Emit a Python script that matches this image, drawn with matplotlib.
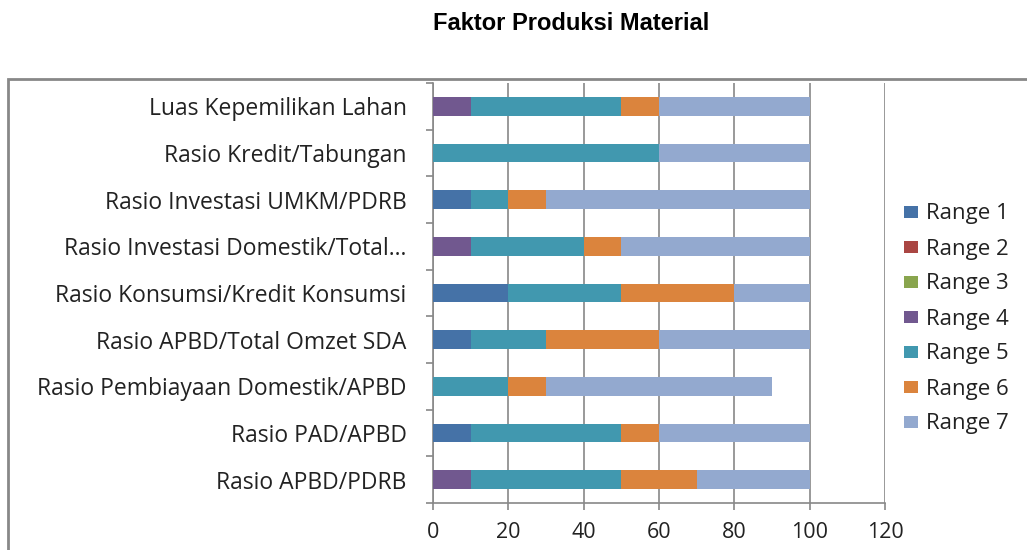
import numpy as np
import matplotlib.pyplot as plt
from matplotlib.patches import Rectangle

# categories, bottom to top
categories = ['Rasio APBD/PDRB', 'Rasio PAD/APBD', 'Rasio Pembiayaan Domestik/APBD',
              'Rasio APBD/Total Omzet SDA', 'Rasio Konsumsi/Kredit Konsumsi',
              'Rasio Investasi Domestik/Total...', 'Rasio Investasi UMKM/PDRB',
              'Rasio Kredit/Tabungan', 'Luas Kepemilikan Lahan']

range1 = [0, 10, 0, 10, 20, 0, 10, 0, 0]
range2 = [0, 0, 0, 0, 0, 0, 0, 0, 0]
range3 = [0, 0, 0, 0, 0, 0, 0, 0, 0]
range4 = [10, 0, 0, 0, 0, 10, 0, 0, 10]
range5 = [40, 40, 20, 20, 30, 30, 10, 60, 40]
range6 = [20, 10, 10, 30, 30, 10, 10, 0, 10]
range7 = [30, 40, 60, 40, 20, 50, 70, 40, 40]

series_names = ['Range 1', 'Range 2', 'Range 3', 'Range 4', 'Range 5', 'Range 6', 'Range 7']
colors = ['#4572A7', '#AA4643', '#89A54E', '#71588F', '#4198AF', '#DB843D', '#93A9CF']

font = 'Open Sans'

fig = plt.figure(figsize=(10.27, 5.5), dpi=100)
ax = fig.add_axes([433/1027, 1-503/550, (885-433)/1027, (503-83)/550])

y = np.arange(len(categories))
left = np.zeros(len(categories))
for name, vals, c in zip(series_names, [range1, range2, range3, range4, range5, range6, range7], colors):
    vals = np.array(vals, dtype=float)
    ax.barh(y, vals, left=left, height=0.4, color=c, label=name, zorder=3)
    left += vals

ax.set_xlim(0, 120)
ax.set_ylim(-0.5, len(categories) - 0.5)
ax.set_xticks(np.arange(0, 121, 20))
ax.set_yticks(y)
ax.set_yticklabels(categories, fontfamily=font, fontsize=16.5, color='#222222')
ax.set_yticks(np.arange(-0.5, len(categories), 1), minor=True)
ax.tick_params(axis='y', which='major', length=0, pad=19)
ax.tick_params(axis='y', which='minor', length=5, width=1.2, color='#888888', direction='out')
ax.tick_params(axis='x', length=5, width=1.2, color='#888888', pad=9, labelsize=15.5, labelcolor='#222222')
for lbl in ax.get_xticklabels():
    lbl.set_fontfamily(font)

ax.grid(axis='x', color='#888888', linewidth=1.2, zorder=0)
ax.set_axisbelow(True)
for s in ['top', 'right']:
    ax.spines[s].set_visible(False)
for s in ['left', 'bottom']:
    ax.spines[s].set_color('#888888')
    ax.spines[s].set_linewidth(1.2)

leg = fig.legend(loc='center left', bbox_to_anchor=(904/1027, 1-319/550), frameon=False,
                 prop={'family': font, 'size': 16}, handlelength=0.64, handleheight=0.45,
                 handletextpad=0.36, labelspacing=0.63, borderpad=0, borderaxespad=0)
for t in leg.get_texts():
    t.set_color('#222222')

# outer chart border
fig.patches.append(Rectangle((8/1027, -0.1), 1.2, 1.1 - 79/550, transform=fig.transFigure,
                             fill=False, edgecolor='#888888', linewidth=2))

fig.text(571/1027, 1-24/550, 'Faktor Produksi Material', ha='center', va='center',
         fontfamily='Liberation Sans', fontweight='bold', fontsize=17)

fig.savefig('out.png', dpi=100)
